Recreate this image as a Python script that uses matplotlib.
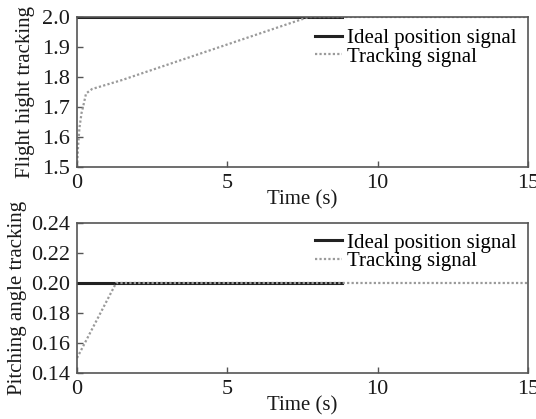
import matplotlib
matplotlib.use("Agg")
import matplotlib.pyplot as plt

# Flight height tracking
t_ideal = [0, 8.8]
h_ideal = [2.0, 2.0]
t_height = [0, 0.03, 0.08, 0.15, 0.2, 0.3, 0.5, 1.0, 1.5, 7.7, 15]
h_track = [1.5, 1.56, 1.63, 1.68, 1.70, 1.745, 1.76, 1.775, 1.79, 2.0, 2.0]

# Pitching angle tracking
a_ideal = [0.2, 0.2]
t_angle = [0, 1.3, 15]
a_track = [0.15, 0.2, 0.2]

x_ticks = [0, 5, 10, 15]
h_ticks = [1.5, 1.6, 1.7, 1.8, 1.9, 2.0]
a_ticks = [0.14, 0.16, 0.18, 0.20, 0.22, 0.24]

plt.rcParams['font.family'] = ['Liberation Serif', 'DejaVu Serif']
plt.rcParams['font.size'] = 15

fig = plt.figure(figsize=(5.36, 4.19), dpi=100)
ax1 = fig.add_axes([0.1437, 0.6014, 0.8413, 0.358])
ax2 = fig.add_axes([0.1437, 0.1098, 0.8413, 0.358])

spine_c = '#555555'
track_c = '#9a9a9a'
text_c = '#1a1a1a'


def style(ax):
    for s in ax.spines.values():
        s.set_color(spine_c)
        s.set_linewidth(1.2)
    ax.tick_params(direction='in', length=4, width=1, colors=spine_c,
                   labelcolor=text_c, labelsize=16)
    ax.tick_params(axis='y', pad=5)
    ax.tick_params(axis='x', pad=5)
    ax.set_xlim(0, 15)
    ax.set_xticks(x_ticks)
    ax.set_xticklabels([str(v) for v in x_ticks])
    ax.set_xlabel('Time (s)', labelpad=-2, color=text_c, fontsize=15)


def add_legend(ax, y):
    ax.legend(loc='upper right', bbox_to_anchor=(1.0, y), frameon=False,
              handlelength=1.3, handletextpad=0.25, labelspacing=-0.05,
              borderaxespad=0.15, fontsize=15)


ax1.plot(t_ideal, h_ideal, color='#222222', lw=2.2, label='Ideal position signal')
ax1.plot(t_height, h_track, color=track_c, lw=1.6, ls=(0, (1, 1)),
         label='Tracking signal')
ax1.set_ylim(1.5, 2.0)
ax1.set_yticks(h_ticks)
ax1.set_yticklabels([f'{v:.1f}' for v in h_ticks])
ax1.set_ylabel('Flight hight tracking', labelpad=5, color=text_c, fontsize=15)
style(ax1)
add_legend(ax1, 1.0)

ax2.plot(t_ideal, a_ideal, color='#222222', lw=2.2, label='Ideal position signal')
ax2.plot(t_angle, a_track, color=track_c, lw=1.6, ls=(0, (1, 1)),
         label='Tracking signal')
ax2.set_ylim(0.14, 0.24)
ax2.set_yticks(a_ticks)
ax2.set_yticklabels([f'{v:.2f}' for v in a_ticks])
ax2.set_ylabel('Pitching angle tracking', labelpad=3, color=text_c, fontsize=15)
style(ax2)
add_legend(ax2, 1.01)

fig.savefig('out.png', dpi=100)
